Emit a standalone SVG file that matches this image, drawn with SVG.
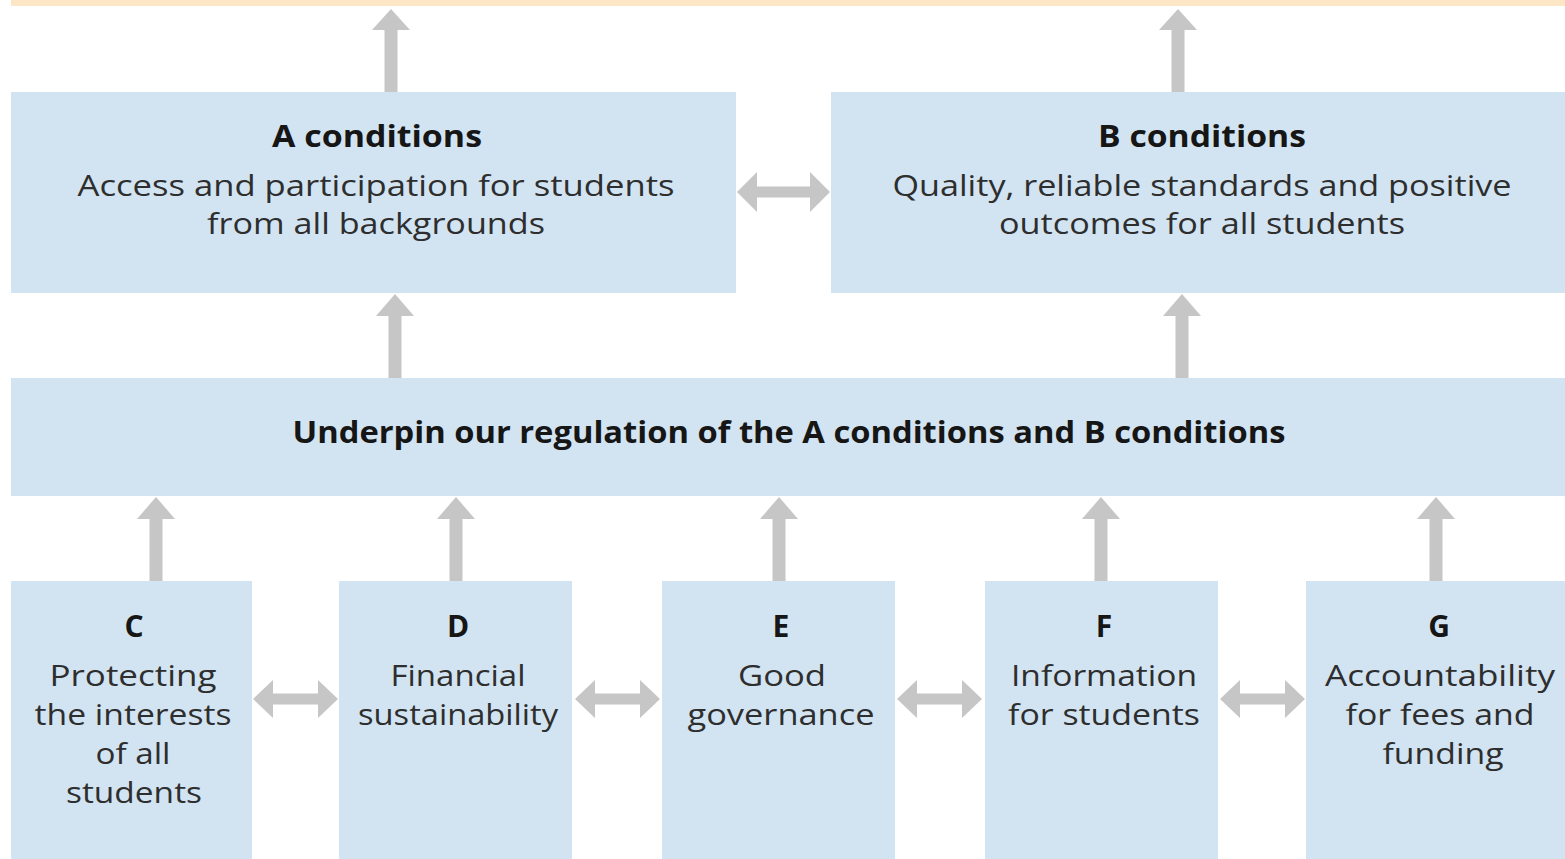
<svg xmlns="http://www.w3.org/2000/svg" width="1565" height="859" viewBox="0 0 1565 859">
  <style>
    .box { fill: #d2e4f2; }
    .arrow { fill: #c6c6c6; }
    .title { font-family: "Open Sans", "Liberation Sans", sans-serif; font-weight: 700; font-size: 30px; fill: #161616; text-anchor: middle; }
    .body { font-family: "Open Sans", "Liberation Sans", sans-serif; font-weight: 400; font-size: 30px; fill: #2e2e2e; text-anchor: middle; }
  </style>
  <rect width="1565" height="859" fill="#ffffff"/>
  <!-- top band -->
  <rect x="11" y="0" width="1554" height="6" fill="#fde6c6"/>

  <g id="connectors">
    <!-- upward arrows: top row -->
    <path class="arrow" d="M391 9 L410 30 L397.5 30 L397.5 92 L384.5 92 L384.5 30 L372 30 Z"/>
    <path class="arrow" d="M1178 9 L1197 30 L1184.5 30 L1184.5 92 L1171.5 92 L1171.5 30 L1159 30 Z"/>
    <!-- upward arrows: into A and B -->
    <path class="arrow" d="M395 294 L414 316 L401.5 316 L401.5 378 L388.5 378 L388.5 316 L376 316 Z"/>
    <path class="arrow" d="M1182 294 L1201 316 L1188.5 316 L1188.5 378 L1175.5 378 L1175.5 316 L1163 316 Z"/>
    <!-- upward arrows: into the underpin band -->
    <path class="arrow" d="M156 497 L175 519 L162.5 519 L162.5 581 L149.5 581 L149.5 519 L137 519 Z"/>
    <path class="arrow" d="M456 497 L475 519 L462.5 519 L462.5 581 L449.5 581 L449.5 519 L437 519 Z"/>
    <path class="arrow" d="M779 497 L798 519 L785.5 519 L785.5 581 L772.5 581 L772.5 519 L760 519 Z"/>
    <path class="arrow" d="M1101 497 L1120 519 L1107.5 519 L1107.5 581 L1094.5 581 L1094.5 519 L1082 519 Z"/>
    <path class="arrow" d="M1436 497 L1455 519 L1442.5 519 L1442.5 581 L1429.5 581 L1429.5 519 L1417 519 Z"/>
    <!-- two-way arrow between A and B -->
    <path class="arrow" d="M737 192 L757 172 L757 186.5 L810 186.5 L810 172 L830 192 L810 212 L810 197.5 L757 197.5 L757 212 Z"/>
    <!-- two-way arrows between the bottom boxes -->
    <path class="arrow" d="M253 699 L273 680 L273 693.5 L318 693.5 L318 680 L338 699 L318 718 L318 704.5 L273 704.5 L273 718 Z"/>
    <path class="arrow" d="M575 699 L595 680 L595 693.5 L640 693.5 L640 680 L660 699 L640 718 L640 704.5 L595 704.5 L595 718 Z"/>
    <path class="arrow" d="M897 699 L917 680 L917 693.5 L962 693.5 L962 680 L982 699 L962 718 L962 704.5 L917 704.5 L917 718 Z"/>
    <path class="arrow" d="M1220 699 L1240 680 L1240 693.5 L1285 693.5 L1285 680 L1305 699 L1285 718 L1285 704.5 L1240 704.5 L1240 718 Z"/>
  </g>

  <g id="node-a">
    <rect class="box" x="11" y="92" width="725" height="201"/>
    <text class="title" x="377" y="147" textLength="210" lengthAdjust="spacingAndGlyphs">A conditions</text>
    <text class="body" x="376" y="196" textLength="597" lengthAdjust="spacingAndGlyphs">Access and participation for students</text>
    <text class="body" x="376" y="234" textLength="338" lengthAdjust="spacingAndGlyphs">from all backgrounds</text>
  </g>
  <g id="node-b">
    <rect class="box" x="831" y="92" width="734" height="201"/>
    <text class="title" x="1202" y="147" textLength="208" lengthAdjust="spacingAndGlyphs">B conditions</text>
    <text class="body" x="1202" y="196" textLength="619" lengthAdjust="spacingAndGlyphs">Quality, reliable standards and positive</text>
    <text class="body" x="1202" y="234" textLength="406" lengthAdjust="spacingAndGlyphs">outcomes for all students</text>
  </g>
  <g id="node-underpin">
    <rect class="box" x="11" y="378" width="1554" height="118"/>
    <text class="title" x="789" y="443" font-size="28.5" textLength="993" lengthAdjust="spacingAndGlyphs">Underpin our regulation of the A conditions and B conditions</text>
  </g>
  <g id="node-c">
    <rect class="box" x="11" y="581" width="241" height="278"/>
    <text class="title" x="134" y="637">C</text>
    <text class="body" x="133" y="686" textLength="167" lengthAdjust="spacingAndGlyphs">Protecting</text>
    <text class="body" x="133" y="725" textLength="197" lengthAdjust="spacingAndGlyphs">the interests</text>
    <text class="body" x="133" y="764" textLength="75" lengthAdjust="spacingAndGlyphs">of all</text>
    <text class="body" x="134" y="803" textLength="136" lengthAdjust="spacingAndGlyphs">students</text>
  </g>
  <g id="node-d">
    <rect class="box" x="339" y="581" width="233" height="278"/>
    <text class="title" x="458" y="637">D</text>
    <text class="body" x="458" y="686" textLength="135" lengthAdjust="spacingAndGlyphs">Financial</text>
    <text class="body" x="458" y="725" textLength="200" lengthAdjust="spacingAndGlyphs">sustainability</text>
  </g>
  <g id="node-e">
    <rect class="box" x="662" y="581" width="233" height="278"/>
    <text class="title" x="781" y="637">E</text>
    <text class="body" x="782" y="686" textLength="88" lengthAdjust="spacingAndGlyphs">Good</text>
    <text class="body" x="781" y="725" textLength="187" lengthAdjust="spacingAndGlyphs">governance</text>
  </g>
  <g id="node-f">
    <rect class="box" x="985" y="581" width="233" height="278"/>
    <text class="title" x="1104" y="637">F</text>
    <text class="body" x="1104" y="686" textLength="186" lengthAdjust="spacingAndGlyphs">Information</text>
    <text class="body" x="1104" y="725" textLength="192" lengthAdjust="spacingAndGlyphs">for students</text>
  </g>
  <g id="node-g">
    <rect class="box" x="1306" y="581" width="259" height="278"/>
    <text class="title" x="1439" y="637">G</text>
    <text class="body" x="1440" y="686" textLength="230" lengthAdjust="spacingAndGlyphs">Accountability</text>
    <text class="body" x="1440" y="725" textLength="189" lengthAdjust="spacingAndGlyphs">for fees and</text>
    <text class="body" x="1443" y="764" textLength="121" lengthAdjust="spacingAndGlyphs">funding</text>
  </g>
</svg>
